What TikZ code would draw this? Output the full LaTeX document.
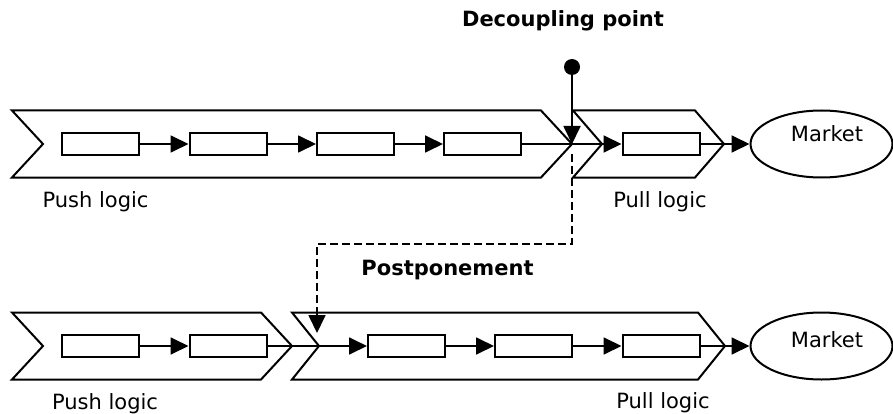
\documentclass[tikz,border=0pt]{standalone}
\usepackage{fontspec}
\setmainfont{DejaVu Sans}
\usetikzlibrary{arrows.meta,shapes.geometric}

\tikzset{
  stage/.style={draw, line width=2pt, fill=white, line join=miter},
  task/.style={draw, line width=2pt, rectangle, minimum width=77pt,
    minimum height=22pt, inner sep=0pt, fill=white},
  flow/.style={line width=1.8pt, -{Triangle[length=18pt,width=17pt]}},
  market/.style={draw, ellipse, line width=2pt, minimum width=142pt,
    minimum height=67pt, inner sep=0pt},
  caption/.style={font=\fontsize{21}{25}\selectfont, anchor=base, inner sep=0pt},
  heading/.style={font=\fontsize{21}{25}\selectfont\bfseries, anchor=base, inner sep=0pt},
  dot/.style={circle, fill=black, inner sep=0pt, minimum size=16pt},
}

% process stage drawn as a chevron: name, left x, tip x, centre y, depth
\newcommand\stagechevron[5]{%
  \draw[stage] (#2,#4-33.5) -- (#3-#5,#4-33.5) -- (#3,#4) -- (#3-#5,#4+33.5)
    -- (#2,#4+33.5) -- (#2+#5,#4) -- cycle;
  \coordinate (#1-tip) at (#3,#4);
  \coordinate (#1-notch) at (#2+#5,#4);
}

\begin{document}
\begin{tikzpicture}[x=1pt, y=-1pt]
\useasboundingbox (0,0) rectangle (893,414);
\fill[white] (0,0) rectangle (893,414);

% ---------- upper chain: decoupling point ----------
\stagechevron{A}{12}{572}{144}{31}
\stagechevron{B}{573}{724}{144}{29}

\node[task] (a1) at (100.5,144) {};
\node[task] (a2) at (228,144) {};
\node[task] (a3) at (355.5,144) {};
\node[task] (a4) at (482.5,144) {};
\node[task] (b1) at (661,144) {};

\node[market] (m1) at (821.5,144) {};
\node[caption] at (827,142) {Market};

\draw[flow] (a1) -- (a2);
\draw[flow] (a2) -- (a3);
\draw[flow] (a3) -- (a4);
\draw[flow] (a4.east) -- (B-notch) -- (b1.west);
\draw[flow] (b1.east) -- (B-tip) -- (m1.west);

\node[dot] (dp) at (572,67) {};
\draw[flow] (dp) -- (A-tip);

\node[heading] at (563,27) {Decoupling point};
\node[caption] at (95.5,207) {Push logic};
\node[caption] at (660,207) {Pull logic};

% ---------- lower chain: postponement ----------
\stagechevron{C}{12}{292}{346}{31}
\stagechevron{D}{292}{725}{346}{27}

\node[task] (c1) at (100.5,346) {};
\node[task] (c2) at (228,346) {};
\node[task] (d1) at (406.5,346) {};
\node[task] (d2) at (533.5,346) {};
\node[task] (d3) at (661,346) {};

\node[market] (m2) at (821.5,346) {};
\node[caption] at (827,347) {Market};

\draw[flow] (c1) -- (c2);
\draw[flow] (c2.east) -- (D-notch) -- (d1.west);
\draw[flow] (d1) -- (d2);
\draw[flow] (d2) -- (d3);
\draw[flow] (d3.east) -- (D-tip) -- (m2.west);

% shift of the decoupling point
\coordinate (bend1) at (572,244);
\coordinate (bend2) at (317,244);
\draw[flow, dash pattern=on 8pt off 4pt, shorten <=10pt, shorten >=13pt]
  (A-tip) -- (bend1) -- (bend2) -- (bend2 |- D-notch);

\node[heading] at (447.5,275) {Postponement};
\node[caption] at (105,409) {Push logic};
\node[caption] at (663,408) {Pull logic};
\end{tikzpicture}
\end{document}
